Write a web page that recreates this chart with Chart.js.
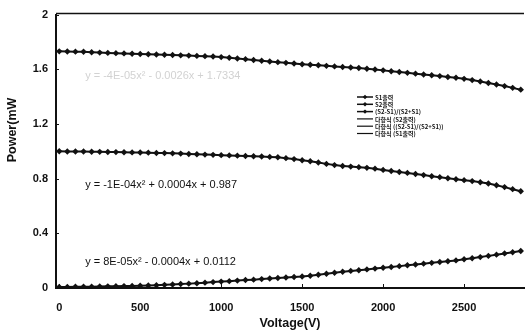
<!DOCTYPE html>
<html>
<head>
<meta charset="utf-8">
<script src="https://cdn.jsdelivr.net/npm/chart.js@4.4.1/dist/chart.umd.min.js"></script>
<style>
  html, body { margin: 0; padding: 0; background: #fff; }
  #miGrafico { display: block; }
</style>
</head>
<body>
<canvas id="miGrafico" width="528" height="333"></canvas>
<script>
// voltaje (V), un punto cada 50 V
let voltajes = [
    0, 50, 100, 150, 200, 250, 300, 350, 400, 450,
    500, 550, 600, 650, 700, 750, 800, 850, 900, 950,
    1000, 1050, 1100, 1150, 1200, 1250, 1300, 1350, 1400, 1450,
    1500, 1550, 1600, 1650, 1700, 1750, 1800, 1850, 1900, 1950,
    2000, 2050, 2100, 2150, 2200, 2250, 2300, 2350, 2400, 2450,
    2500, 2550, 2600, 2650, 2700, 2750, 2800, 2850
];
// potencia (mW)
let salidaS1 = [
    1.731, 1.730, 1.729, 1.728, 1.725, 1.722, 1.720, 1.718, 1.716, 1.714,
    1.712, 1.710, 1.708, 1.706, 1.704, 1.702, 1.700, 1.698, 1.696, 1.693,
    1.689, 1.684, 1.679, 1.674, 1.668, 1.662, 1.657, 1.652, 1.647, 1.642,
    1.637, 1.633, 1.629, 1.625, 1.621, 1.617, 1.613, 1.609, 1.604, 1.598,
    1.592, 1.586, 1.580, 1.574, 1.568, 1.562, 1.556, 1.550, 1.544, 1.538,
    1.530, 1.521, 1.511, 1.500, 1.489, 1.477, 1.464, 1.451
];
let salidaS2 = [
    1.000, 0.999, 0.998, 0.998, 0.997, 0.996, 0.995, 0.994, 0.993, 0.992,
    0.991, 0.990, 0.988, 0.987, 0.985, 0.983, 0.980, 0.978, 0.976, 0.974,
    0.972, 0.970, 0.968, 0.966, 0.964, 0.962, 0.959, 0.956, 0.950, 0.943,
    0.935, 0.927, 0.918, 0.908, 0.899, 0.893, 0.888, 0.884, 0.879, 0.873,
    0.864, 0.856, 0.849, 0.842, 0.834, 0.826, 0.818, 0.811, 0.803, 0.795,
    0.789, 0.782, 0.774, 0.764, 0.752, 0.738, 0.723, 0.708
];
let razonS = [
    0.008, 0.008, 0.009, 0.009, 0.010, 0.011, 0.012, 0.013, 0.014, 0.015,
    0.017, 0.018, 0.020, 0.023, 0.026, 0.029, 0.032, 0.035, 0.039, 0.043,
    0.047, 0.050, 0.054, 0.058, 0.061, 0.065, 0.069, 0.073, 0.077, 0.080,
    0.084, 0.090, 0.097, 0.104, 0.112, 0.119, 0.125, 0.130, 0.136, 0.142,
    0.148, 0.154, 0.160, 0.166, 0.172, 0.178, 0.184, 0.190, 0.196, 0.202,
    0.210, 0.218, 0.226, 0.235, 0.244, 0.253, 0.262, 0.271
];
let nombresSeries = ['S1출력', 'S2출력', '(S2-S1)/(S2+S1)'];
let nombresTendencia = ['다항식 (S2출력)', '다항식 ((S2-S1)/(S2+S1))', '다항식 (S1출력)'];
let ecuaciones = [
    'y = -4E-05x² - 0.0026x + 1.7334',
    'y = -1E-04x² + 0.0004x + 0.987',
    'y = 8E-05x² - 0.0004x + 0.0112'
];
let ticksX = [0, 500, 1000, 1500, 2000, 2500];
let ticksY = [0, 0.4, 0.8, 1.2, 1.6, 2];

let fuenteEje = 'Liberation Sans, Arial, sans-serif';

let armarPuntos = (valores) => voltajes.map((v, i) => ({ x: v, y: valores[i] }));

let serie = (nombre, valores) => ({
    label: nombre,
    data: armarPuntos(valores),
    borderColor: '#111',
    backgroundColor: '#111',
    borderWidth: 2,
    pointStyle: 'rectRot',
    pointRadius: 3.2,
    pointBorderWidth: 0,
    tension: 0
});

// titulos, ecuaciones, leyenda y marcas internas
let extras = {
    id: 'extras',
    afterDraw: (chart) => {
        let ctx = chart.ctx;
        let area = chart.chartArea;
        let sx = chart.scales.x;
        let sy = chart.scales.y;
        ctx.save();
        ctx.strokeStyle = '#111';

        // borde superior
        ctx.lineWidth = 1.5;
        ctx.beginPath();
        ctx.moveTo(area.left, area.top - 1);
        ctx.lineTo(area.right, area.top - 1);
        ctx.stroke();

        // marcas hacia adentro
        ctx.lineWidth = 1;
        ticksY.forEach((v) => {
            let py = Math.round(sy.getPixelForValue(v)) + 0.5;
            ctx.beginPath();
            ctx.moveTo(area.left, py);
            ctx.lineTo(area.left + 3, py);
            ctx.stroke();
        });
        ticksX.forEach((v) => {
            let px = Math.round(sx.getPixelForValue(v)) + 0.5;
            ctx.beginPath();
            ctx.moveTo(px, area.bottom);
            ctx.lineTo(px, area.bottom - 4);
            ctx.stroke();
        });

        // titulos de ejes
        ctx.fillStyle = '#111';
        ctx.font = 'bold 12.5px ' + fuenteEje;
        ctx.textAlign = 'center';
        ctx.textBaseline = 'middle';
        ctx.fillText('Voltage(V)', (area.left + area.right) / 2, 324);
        ctx.save();
        ctx.translate(13, 130);
        ctx.rotate(-Math.PI / 2);
        ctx.fillText('Power(mW', 0, 0);
        ctx.restore();

        // ecuaciones de tendencia
        ctx.font = '11px ' + fuenteEje;
        ctx.textAlign = 'left';
        let anclas = [1.55, 0.756, 0.189];
        ecuaciones.forEach((texto, i) => {
            ctx.fillStyle = i == 0 ? '#d2d2d2' : '#111';
            ctx.fillText(texto, sx.getPixelForValue(160), sy.getPixelForValue(anclas[i]));
        });

        // leyenda
        ctx.font = 'bold 6px "Noto Sans CJK KR", sans-serif';
        ctx.fillStyle = '#111';
        let filas = nombresSeries.concat(nombresTendencia);
        filas.forEach((texto, i) => {
            let y = 97 + i * 7.3;
            ctx.lineWidth = i < 3 ? 1.5 : 1.2;
            ctx.beginPath();
            ctx.moveTo(357, y);
            ctx.lineTo(373, y);
            ctx.stroke();
            if (i < 3) {
                ctx.beginPath();
                ctx.moveTo(365, y - 2.2);
                ctx.lineTo(367.2, y);
                ctx.lineTo(365, y + 2.2);
                ctx.lineTo(362.8, y);
                ctx.closePath();
                ctx.fill();
            }
            ctx.fillText(texto, 375, y + 0.5);
        });
        ctx.restore();
    }
};

let ctx = document.getElementById('miGrafico').getContext('2d');
let miGrafico = new Chart(ctx, {
    type: 'line',
    data: {
        datasets: [
            serie(nombresSeries[0], salidaS1),
            serie(nombresSeries[1], salidaS2),
            serie(nombresSeries[2], razonS)
        ]
    },
    options: {
        responsive: false,
        animation: false,
        devicePixelRatio: 1,
        layout: { padding: { top: 13, left: 0, right: 0, bottom: 0 } },
        plugins: {
            legend: { display: false },
            tooltip: { enabled: false }
        },
        scales: {
            x: {
                type: 'linear',
                min: -20,
                max: 2870,
                afterFit: (s) => { s.height = 45; },
                afterBuildTicks: (s) => { s.ticks = ticksX.map((v) => ({ value: v })); },
                grid: { drawOnChartArea: false, drawTicks: false },
                border: { display: true, color: '#111', width: 2 },
                ticks: {
                    padding: 13,
                    color: '#111',
                    font: { family: fuenteEje, size: 11, weight: 'bold' },
                    maxRotation: 0,
                    callback: (v) => String(v)
                }
            },
            y: {
                min: 0,
                max: 2,
                afterFit: (s) => { s.width = 56; },
                afterBuildTicks: (s) => { s.ticks = ticksY.map((v) => ({ value: v })); },
                grid: { drawOnChartArea: false, drawTicks: false },
                border: { display: true, color: '#111', width: 2 },
                ticks: {
                    padding: 8,
                    color: '#111',
                    font: { family: fuenteEje, size: 11, weight: 'bold' },
                    callback: (v) => String(v)
                }
            }
        }
    },
    plugins: [extras]
});
</script>
</body>
</html>
